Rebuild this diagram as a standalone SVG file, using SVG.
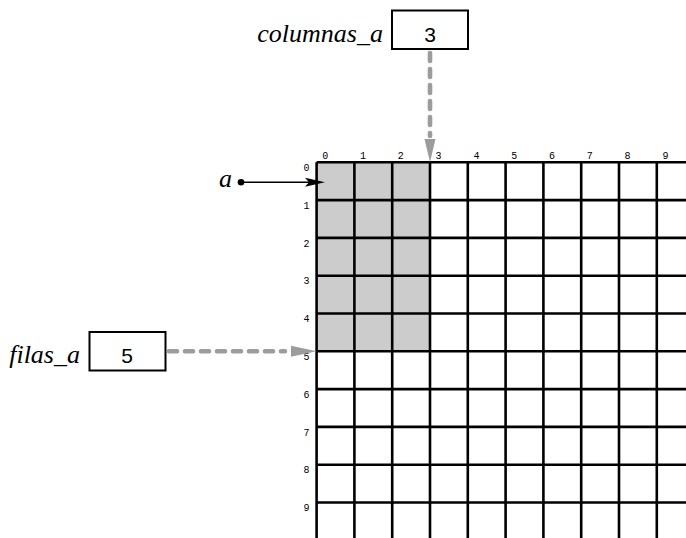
<svg xmlns="http://www.w3.org/2000/svg" width="686" height="538" viewBox="0 0 686 538">
<style>
.grid line{stroke:#000;stroke-width:2.6}
.lbl{font-family:"Liberation Mono",monospace;font-size:10px;fill:#000;text-anchor:middle}
.var{font-family:"Liberation Serif","Times New Roman",serif;font-style:italic;font-size:26px;fill:#000}
.val{font-family:"Liberation Sans",sans-serif;font-size:21px;fill:#000;text-anchor:middle}
.box{fill:#fff;stroke:#000;stroke-width:2}
.dash{stroke:#9c9c9c;stroke-width:4.6;stroke-dasharray:8 8;stroke-linecap:round;fill:none}
</style>
<rect width="686" height="538" fill="#fff"/>
<g id="matrix" class="grid">
<rect x="316.6" y="162.3" width="113.4" height="189" fill="#cccccc"/>
<line x1="316.6" y1="162.3" x2="316.6" y2="538"/>
<line x1="354.4" y1="162.3" x2="354.4" y2="538"/>
<line x1="392.2" y1="162.3" x2="392.2" y2="538"/>
<line x1="430" y1="162.3" x2="430" y2="538"/>
<line x1="467.8" y1="162.3" x2="467.8" y2="538"/>
<line x1="505.6" y1="162.3" x2="505.6" y2="538"/>
<line x1="543.4" y1="162.3" x2="543.4" y2="538"/>
<line x1="581.2" y1="162.3" x2="581.2" y2="538"/>
<line x1="619" y1="162.3" x2="619" y2="538"/>
<line x1="656.8" y1="162.3" x2="656.8" y2="538"/>
<line x1="316.6" y1="162.3" x2="686" y2="162.3"/>
<line x1="316.6" y1="200.1" x2="686" y2="200.1"/>
<line x1="316.6" y1="237.9" x2="686" y2="237.9"/>
<line x1="316.6" y1="275.7" x2="686" y2="275.7"/>
<line x1="316.6" y1="313.5" x2="686" y2="313.5"/>
<line x1="316.6" y1="351.3" x2="686" y2="351.3"/>
<line x1="316.6" y1="389.1" x2="686" y2="389.1"/>
<line x1="316.6" y1="426.9" x2="686" y2="426.9"/>
<line x1="316.6" y1="464.7" x2="686" y2="464.7"/>
<line x1="316.6" y1="502.5" x2="686" y2="502.5"/>
<g class="lbl">
<text x="325.2" y="159">0</text>
<text x="363" y="159">1</text>
<text x="400.8" y="159">2</text>
<text x="438.6" y="159">3</text>
<text x="476.4" y="159">4</text>
<text x="514.2" y="159">5</text>
<text x="552" y="159">6</text>
<text x="589.8" y="159">7</text>
<text x="627.6" y="159">8</text>
<text x="665.4" y="159">9</text>
<text x="306.5" y="171">0</text>
<text x="306.5" y="208.8">1</text>
<text x="306.5" y="246.6">2</text>
<text x="306.5" y="284.4">3</text>
<text x="306.5" y="322.2">4</text>
<text x="306.5" y="360">5</text>
<text x="306.5" y="397.8">6</text>
<text x="306.5" y="435.6">7</text>
<text x="306.5" y="473.4">8</text>
<text x="306.5" y="511.2">9</text>
</g>
</g>
<g id="columnas_a">
<text class="var" x="383" y="42" text-anchor="end">columnas_a</text>
<rect class="box" x="392" y="10.5" width="76" height="38.5"/>
<text class="val" x="430" y="41.5">3</text>
</g>
<g id="filas_a">
<text class="var" x="80" y="362.5" text-anchor="end">filas_a</text>
<rect class="box" x="89.5" y="332" width="76" height="38.5"/>
<text class="val" x="127" y="363">5</text>
</g>
<g id="pointer_a">
<text class="var" x="232" y="187" text-anchor="end">a</text>
<circle cx="241" cy="182.3" r="3.3" fill="#000"/>
</g>
<g id="connectors">
<line x1="241" y1="182.3" x2="310" y2="182.3" stroke="#000" stroke-width="1.6"/>
<polygon points="325,182.3 305,177.8 309,182.3 305,186.8" fill="#000"/>
<line class="dash" x1="430" y1="53" x2="430" y2="136"/>
<polygon points="430,162.3 424.5,139 435.5,139" fill="#9c9c9c"/>
<line class="dash" x1="169" y1="351.3" x2="285" y2="351.3"/>
<polygon points="316.6,351.3 291,345.8 291,356.8" fill="#9c9c9c"/>
</g>
</svg>
